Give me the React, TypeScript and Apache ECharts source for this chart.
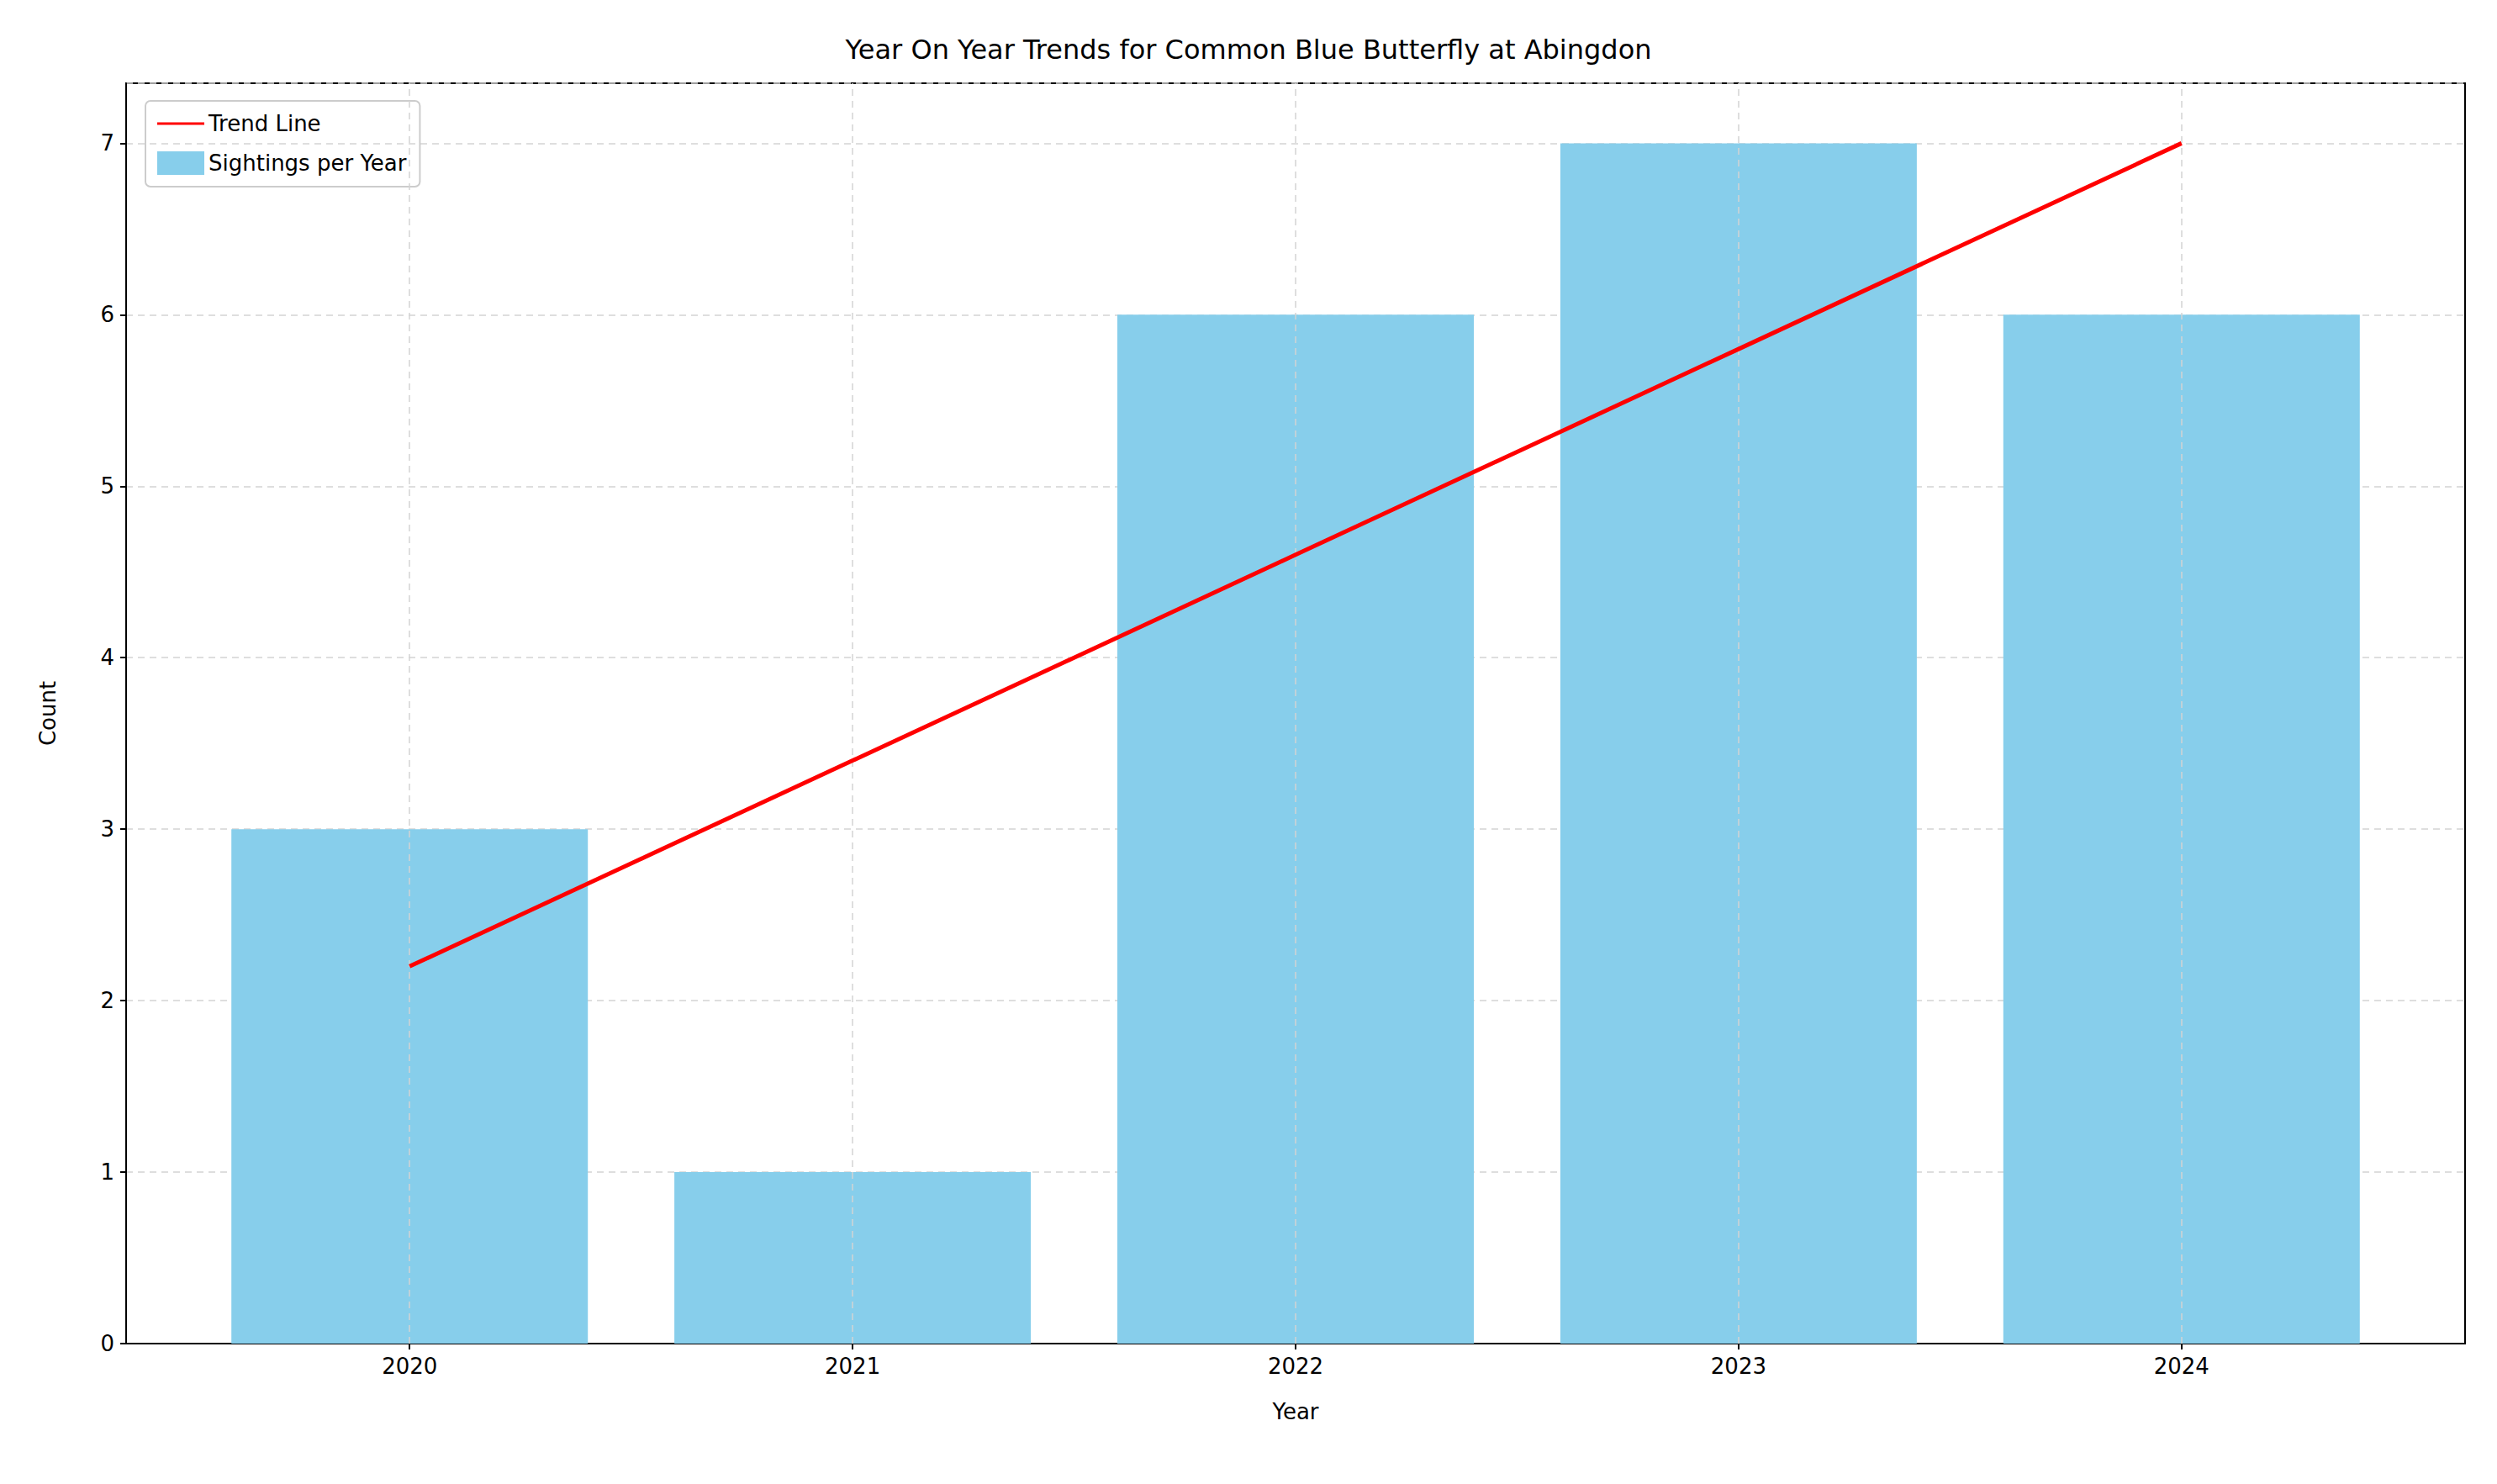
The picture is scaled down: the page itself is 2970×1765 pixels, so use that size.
import { useEffect, useRef } from "react";
import * as echarts from "echarts";

const years = ["2020", "2021", "2022", "2023", "2024"];
const sightings = [3, 1, 6, 7, 6];
const trend = [2.2, 3.4, 4.6, 5.8, 7.0];

const FONT = "DejaVu Sans";

export default function App() {
  const hostRef = useRef<HTMLDivElement>(null);

  useEffect(() => {
    const host = hostRef.current;
    if (host === null) return;
    const chart = echarts.init(host, undefined, { renderer: "svg" });
    chart.setOption({
      animation: false,
      backgroundColor: "#ffffff",
      textStyle: { fontFamily: FONT },
      title: {
        text: "Year On Year Trends for Common Blue Butterfly at Abingdon",
        left: "center",
        top: 30,
        textStyle: { fontFamily: FONT, fontSize: 32, fontWeight: "normal", color: "#000" }
      },
      legend: {
        orient: "vertical",
        left: 165,
        top: 112,
        padding: [14, 16, 14, 14],
        itemGap: 20,
        itemWidth: 56,
        itemHeight: 28,
        borderColor: "#cccccc",
        borderWidth: 2,
        borderRadius: 6,
        textStyle: { fontFamily: FONT, fontSize: 26, color: "#000" },
        data: [
          { name: "Trend Line", icon: "path://M0,12 L56,12 L56,15 L0,15 Z", itemStyle: { color: "#ff0000" } },
          { name: "Sightings per Year", icon: "rect", itemStyle: { color: "#87ceeb" } }
        ]
      },
      grid: { left: 142, right: 30, top: 91, bottom: 159, show: true, borderColor: "#000", borderWidth: 2 },
      xAxis: {
        type: "value",
        min: -0.64,
        max: 4.64,
        name: "Year",
        nameLocation: "middle",
        nameGap: 68,
        nameTextStyle: { fontFamily: FONT, fontSize: 26, color: "#000" },
        axisLine: { onZero: false, lineStyle: { color: "#000", width: 2 } },
        axisTick: { customValues: [0, 1, 2, 3, 4], length: 7, lineStyle: { color: "#000", width: 2 } },
        axisLabel: {
          customValues: [0, 1, 2, 3, 4],
          formatter: (v: number) => years[Math.round(v)] ?? "",
          fontFamily: FONT,
          fontSize: 26,
          color: "#000",
          margin: 14
        },
        splitLine: { show: false }
      },
      yAxis: {
        type: "value",
        min: 0,
        max: 7.35,
        interval: 1,
        name: "Count",
        nameLocation: "middle",
        nameGap: 80,
        nameTextStyle: { fontFamily: FONT, fontSize: 26, color: "#000" },
        axisLine: { show: true, onZero: false, lineStyle: { color: "#000", width: 2 } },
        axisTick: { show: true, length: 7, lineStyle: { color: "#000", width: 2 } },
        axisLabel: { fontFamily: FONT, fontSize: 26, color: "#000", margin: 14, showMaxLabel: false },
        splitLine: { lineStyle: { color: "#d3d3d3", type: [8, 6], width: 1.5 } }
      },
      series: [
        {
          name: "Sightings per Year",
          type: "bar",
          data: sightings.map((v, i) => [i, v]),
          barWidth: 424,
          itemStyle: { color: "#87ceeb" },
          markLine: {
            silent: true,
            symbol: "none",
            label: { show: false },
            lineStyle: { color: "#d3d3d3", type: [8, 6], width: 1.5 },
            data: years.map((_, i) => ({ xAxis: i }))
          },
          z: 2
        },
        {
          name: "Trend Line",
          type: "line",
          data: trend.map((v, i) => [i, v]),
          showSymbol: false,
          lineStyle: { color: "#ff0000", width: 5 },
          itemStyle: { color: "#ff0000" },
          z: 5
        }
      ]
    });
    return () => chart.dispose();
  }, []);

  return <div ref={hostRef} style={{ width: 2954, height: 1749 }} />;
}
